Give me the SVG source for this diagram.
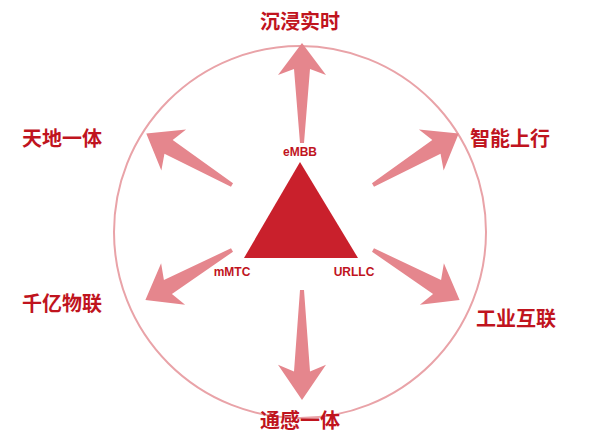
<svg xmlns="http://www.w3.org/2000/svg" width="600" height="440" viewBox="0 0 600 440">
<style>
.big{font-family:"Noto Sans CJK SC","Liberation Sans",sans-serif;font-weight:bold;font-size:20px;fill:#c0141e;text-anchor:middle}
.sm{font-family:"Liberation Sans",sans-serif;font-weight:bold;font-size:12px;fill:#c0141e;text-anchor:middle}
.arr{fill:#e5868d}
</style>
<defs><path id="a" class="arr" d="M-2,0 L2,0 L8,-74 L24,-68 L0,-100 L-24,-68 L-8,-74 Z"/></defs>
<rect width="600" height="440" fill="#fff"/>
<circle cx="300" cy="232" r="186" fill="none" stroke="#e9a3a8" stroke-width="2"/>
<g id="connectors">
<use href="#a" transform="translate(302,143)"/>
<use href="#a" transform="translate(232,185) rotate(-59)"/>
<use href="#a" transform="translate(373,185) rotate(59)"/>
<use href="#a" transform="translate(232,250) rotate(-120)"/>
<use href="#a" transform="translate(373,250) rotate(120)"/>
<use href="#a" transform="translate(302,290) rotate(180) scale(1,1.1)"/>
</g>
<g id="core"><path d="M300,162 L358,258 L244,258 Z" fill="#c9202c"/></g>
<g id="labels-core">
<text class="sm" x="300" y="156">eMBB</text>
<text class="sm" x="232" y="276">mMTC</text>
<text class="sm" x="354" y="276">URLLC</text>
</g>
<g id="n1"><text class="big" x="300" y="29">沉浸实时</text></g>
<g id="n2"><text class="big" x="62" y="146">天地一体</text></g>
<g id="n3"><text class="big" x="510" y="146">智能上行</text></g>
<g id="n4"><text class="big" x="62" y="311">千亿物联</text></g>
<g id="n5"><text class="big" x="516" y="326">工业互联</text></g>
<g id="n6"><text class="big" x="300" y="428">通感一体</text></g>
</svg>
